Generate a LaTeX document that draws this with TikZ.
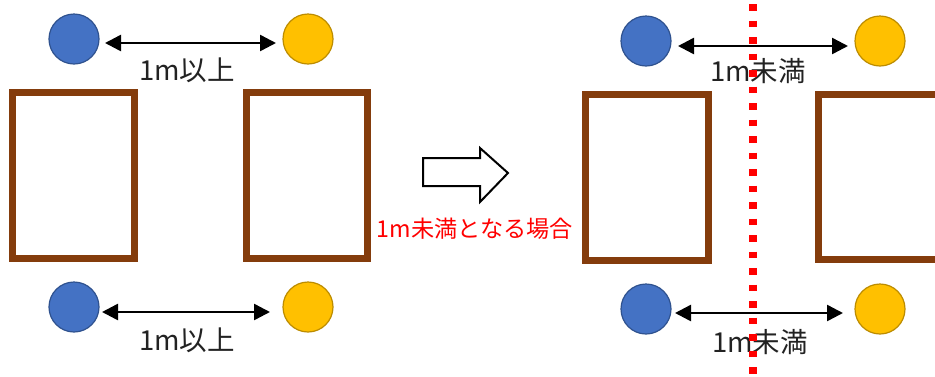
\documentclass[tikz,border=0pt]{standalone}
\usepackage{fontspec}
\newfontfamily\jp{Noto Sans CJK JP}
\usetikzlibrary{arrows.meta}
\definecolor{brn}{HTML}{843C0C}
\definecolor{bluef}{HTML}{4472C4}
\definecolor{bluel}{HTML}{2F528F}
\definecolor{yelf}{HTML}{FFC000}
\definecolor{yell}{HTML}{BC8C00}
\definecolor{txt}{HTML}{222222}
\definecolor{redd}{HTML}{FF0000}
\tikzset{
  bdot/.style={circle, fill=bluef, draw=bluel, line width=1.2pt, minimum size=50pt, inner sep=0pt},
  ydot/.style={circle, fill=yelf, draw=yell, line width=1.2pt, minimum size=50pt, inner sep=0pt},
  car/.style={draw=brn, line width=7pt},
  dim/.style={{Triangle[length=16pt,width=16pt]}-{Triangle[length=16pt,width=16pt]}, line width=2.5pt, black},
  lbl/.style={font=\jp\fontsize{27.5pt}{30pt}\selectfont, text=txt, inner sep=0pt},
  redlbl/.style={font=\jp\fontsize{23.2pt}{26pt}\selectfont, text=redd, inner sep=0pt},
  blockarrow/.style={draw=black, line width=2pt, fill=white, line join=miter}
}
\begin{document}
\begin{tikzpicture}[x=1pt,y=-1pt]
\useasboundingbox (0,0) rectangle (935,376);
\clip (0,0) rectangle (935,376);
% left side
\node[bdot] (lb1) at (74,39) {};
\node[ydot] (ly1) at (308,39) {};
\coordinate (la1s) at (105,43);
\coordinate (la1e) at (276,43);
\draw[dim] (la1s) -- (la1e);
\node[lbl] (lt1) at (187,70) {1m以上};
\draw[car] (12,92) rectangle (134,258);
\draw[car] (246,92) rectangle (367,258);
\node[bdot] (lb2) at (74,307) {};
\node[ydot] (ly2) at (308,307) {};
\coordinate (la2s) at (102,312);
\coordinate (la2e) at (270,312);
\draw[dim] (la2s) -- (la2e);
\node[lbl] (lt2) at (187,340) {1m以上};
% middle
\draw[blockarrow] (423,158) -- (480,158) -- (480,148) -- (508,173) -- (480,202) -- (480,186) -- (423,186) -- cycle;
\node[redlbl] (mid) at (475,229) {1m未満となる場合};
% right side
\draw[car] (585,94) rectangle (708,260);
\draw[car] (818,94) rectangle (960,259);
\node[bdot] (rb1) at (646,41) {};
\node[ydot] (ry1) at (880,41) {};
\coordinate (ra1s) at (678,46);
\coordinate (ra1e) at (848,46);
\draw[dim] (ra1s) -- (ra1e);
\node[lbl] (rt1) at (758,71) {1m未満};
\node[bdot] (rb2) at (646,309) {};
\node[ydot] (ry2) at (880,309) {};
\coordinate (ra2s) at (675,313);
\coordinate (ra2e) at (843,313);
\draw[dim] (ra2s) -- (ra2e);
\node[lbl] (rt2) at (760,342) {1m未満};
% red dotted line
\coordinate (dtop) at (753,4);
\coordinate (dbot) at (753,376);
\draw[redd, line width=8pt, dash pattern=on 6.5pt off 10pt] (dtop) -- (dbot);
\end{tikzpicture}
\end{document}
